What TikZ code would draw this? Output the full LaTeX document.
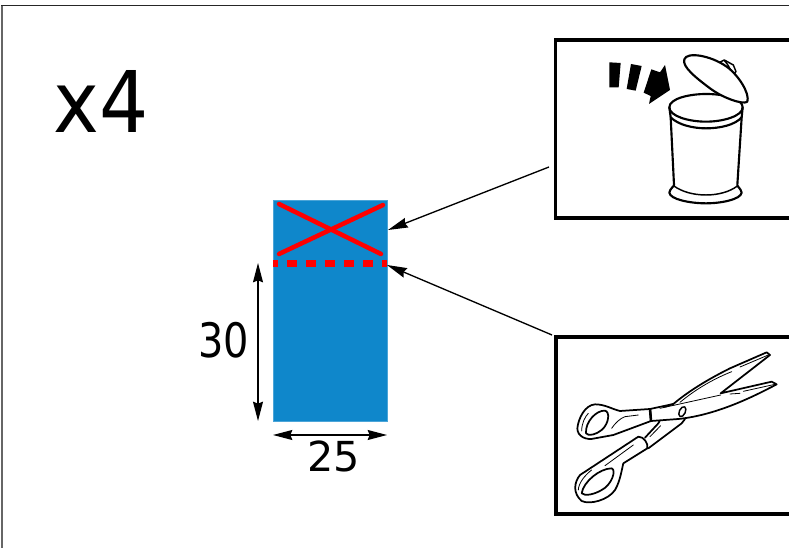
\documentclass[tikz,border=0pt]{standalone}
\usepackage{graphicx}
\usepackage{fontspec}
\setmainfont{DejaVu Sans}
\usetikzlibrary{arrows.meta}
\definecolor{panelblue}{RGB}{15,135,203}
\tikzset{
  px/.style={x=0.75pt,y=-0.75pt},
  zoomed/.style={x=0.25pt,y=-0.25pt},
  panel/.style={draw=black,line width=2.85pt,fill=white,inner sep=0pt,minimum width=260*0.75pt,anchor=north west},
  pointer/.style={draw=black,line width=1pt,-{Stealth[length=15pt,width=7.5pt,inset=1.5pt]}},
  dim/.style={draw=black,line width=1pt,{Stealth[length=14.5pt,width=7.5pt,inset=1.5pt]}-{Stealth[length=14.5pt,width=7.5pt,inset=1.5pt]}},
  redcross/.style={draw=red,line width=3.4pt,line cap=round},
  redcut/.style={draw=red,line width=4.6pt,dash pattern=on 7pt off 7.25pt,dash phase=3.5pt},
  binink/.style={draw=black,line width=1.6pt,line join=round,line cap=round},
  binthin/.style={draw=black,line width=1.1pt,line join=round,line cap=round},
  ink/.style={draw=black,line width=1.3pt,line join=round,line cap=round},
  thinink/.style={draw=black,line width=0.6pt,line join=round,line cap=round},
}
\begin{document}
\begin{tikzpicture}[px]
\useasboundingbox (0,0) rectangle (789,548);
\fill[white] (0,0) rectangle (789,548);
\draw[black!60,line width=1pt] (2,548) -- (2,5.5);
\draw[black!85,line width=1pt] (1.4,5.5) -- (789,5.5);
\node[inner sep=0pt,anchor=base west,font=\fontsize{63.8pt}{64pt}\selectfont] (title) at (53.5,132.5) {\scalebox{0.91}[1]{x4}};
% strip
\node[draw=panelblue!75!white,line width=0.4pt,fill=panelblue,inner sep=0pt,minimum width=114*0.75pt,minimum height=221*0.75pt,anchor=north west] (strip) at (273,200) {};
\coordinate (xa) at (279,204); \coordinate (xb) at (381,254);
\coordinate (xc) at (383,205); \coordinate (xd) at (279,254);
\draw[redcross] (xa) -- (xb);
\draw[redcross] (xc) -- (xd);
\coordinate (cutl) at (273,263.5); \coordinate (cutr) at (387,263.5);
\draw[redcut] (cutl) -- (cutr);
% panels
\node[panel,minimum height=178*0.75pt] (binbox) at (553.6,38.3) {};
\node[panel,minimum height=177.5*0.75pt] (scissorbox) at (554,335) {};
% connectors
\coordinate (pa) at (388,230); \coordinate (pb) at (387,265);
\coordinate (sa) at (549,167); \coordinate (sb) at (552,335);
\draw[pointer] (sa) -- (pa);
\draw[pointer] (sb) -- (pb);
\coordinate (va) at (258,263); \coordinate (vb) at (258,421);
\draw[dim] (va) -- (vb);
\coordinate (ha) at (273,435); \coordinate (hb) at (387,435);
\draw[dim] (ha) -- (hb);
\node[inner sep=0pt,anchor=base,font=\fontsize{35.6pt}{36pt}\selectfont] (n30) at (224,357.3) {\scalebox{0.84}[1]{30}};
\node[inner sep=0pt,anchor=base,font=\fontsize{31pt}{31pt}\selectfont] (n25) at (334,472) {25};
% bin
\begin{scope}[shift={(550,30)},zoomed]
\fill[black] (178,97) -- (212,99) -- (206,172) -- (178,172) -- cycle;
\fill[black] (243,102) -- (275,108) -- (257,182) -- (230,177) -- cycle;
\fill[black] (304,118) -- (330,127) -- (345,105) -- (360,180) -- (297,222) -- (302,198) -- (281,188) -- cycle;
\draw[binink,fill=white] (358,232) .. controls (358,205) and (420,192) .. (468,192) .. controls (520,192) and (578,205) .. (578,232)
  .. controls (578,258) and (520,275) .. (468,275) .. controls (415,275) and (358,258) .. (358,232) -- cycle;
\draw[binink] (362,262) .. controls (385,285) and (430,295) .. (468,295) .. controls (510,295) and (555,285) .. (575,262);
\draw[binink] (358,232) -- (362,262) -- (372,465) .. controls (372,470) and (360,475) .. (358,488)
  .. controls (360,508) and (420,520) .. (468,520) .. controls (515,520) and (572,508) .. (575,488)
  .. controls (572,475) and (562,470) .. (562,465) -- (575,262) -- (578,232);
\draw[binthin] (372,468) .. controls (395,485) and (430,495) .. (468,495) .. controls (505,495) and (540,485) .. (562,468);
\draw[binthin,fill=white] (507,98) -- (523,90) -- (550,105) -- (558,125) -- (550,132) -- cycle;
\draw[binthin] (523,92) .. controls (532,100) and (540,115) .. (545,128);
\draw[binink,fill=white] (403,88) .. controls (410,65) and (480,75) .. (530,110) .. controls (565,135) and (600,190) .. (592,215)
  .. controls (580,225) and (520,205) .. (480,175) .. controls (440,145) and (395,110) .. (403,88) -- cycle;
\end{scope}
% scissors: shank and lower handle
\begin{scope}[shift={(570,395)},zoomed]
\fill[white] (225,128) -- (272,70) -- (345,70) -- (235,160) -- cycle;
\draw[ink] (225,128) -- (265,85) -- (272,72);
\draw[ink] (235,160) -- (335,85) -- (345,72);
\draw[thinink] (240,125) -- (272,92);
\draw[ink,fill=white] (205,125) -- (30,240) .. controls (12,262) and (8,295) .. (35,318)
  .. controls (60,330) and (115,315) .. (135,285) .. controls (150,260) and (155,225) .. (160,205)
  -- (232,160) .. controls (235,145) and (222,125) .. (205,125) -- cycle;
\draw[ink,fill=white] (35,295) .. controls (40,260) and (90,220) .. (125,220)
  .. controls (140,225) and (125,270) .. (95,285) .. controls (75,297) and (45,305) .. (35,295) -- cycle;
\draw[thinink] (105,212) -- (190,150);
\draw[thinink] (25,285) .. controls (25,265) and (45,240) .. (65,225);
\end{scope}
% scissors: blades
\begin{scope}[shift={(660,345)},zoomed]
\draw[ink,fill=white] (-30,192) -- (40,177) .. controls (90,135) and (150,100) .. (210,70) -- (320,22) -- (330,30) -- (182,145)
  -- (335,110) -- (350,118) .. controls (280,155) and (170,210) .. (55,222) -- (-27,228) -- cycle;
\draw[thinink] (0,190) -- (182,150);
\draw[thinink] (60,172) .. controls (110,130) and (165,100) .. (215,80);
\draw[thinink] (240,66) -- (325,30);
\draw[thinink] (210,147) -- (240,145) (250,139) -- (345,118);
\draw[ink] (15,185) -- (40,177);
\draw[binthin,fill=white] (67,200) ellipse [x radius=9,y radius=16,rotate=-25];
\end{scope}
% scissors: upper handle
\begin{scope}[shift={(570,395)},zoomed]
\draw[ink,fill=white] (240,42) -- (150,48) .. controls (125,42) and (105,28) .. (75,28)
  .. controls (45,30) and (25,70) .. (22,100) .. controls (22,125) and (50,137) .. (75,130)
  -- (130,120) -- (243,78) -- cycle;
\draw[line width=1.9pt,black] (240,42) -- (243,78);
\draw[ink,fill=white] (48,115) .. controls (45,80) and (80,45) .. (105,47)
  .. controls (120,50) and (118,85) .. (95,105) .. controls (80,118) and (55,125) .. (48,115) -- cycle;
\draw[thinink] (35,108) .. controls (35,85) and (45,65) .. (55,55);
\draw[thinink] (125,100) .. controls (135,85) and (150,70) .. (165,65) -- (205,60);
\end{scope}
\end{tikzpicture}
\end{document}
